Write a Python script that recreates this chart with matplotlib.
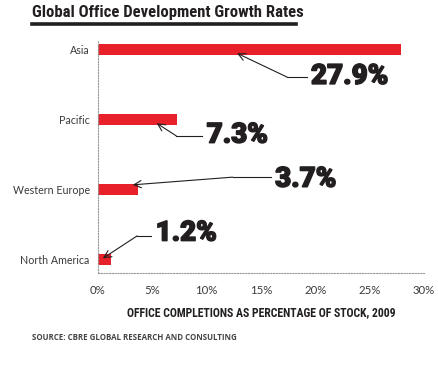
import matplotlib
matplotlib.use("Agg")
import matplotlib.pyplot as plt
import matplotlib.patheffects as pe

regions = ["North America", "Western Europe", "Pacific", "Asia"]
growth = [1.2, 3.7, 7.3, 27.9]
tick_values = [0, 5, 10, 15, 20, 25, 30]
tick_labels = ["0%", "5%", "10%", "15%", "20%", "25%", "30%"]

RED = "#e8202a"
INK = "#231f20"
NARROW = ["Liberation Sans Narrow", "Roboto Condensed", "Open Sans Condensed", "Lato", "DejaVu Sans"]

fig = plt.figure(figsize=(4.38, 3.67), dpi=100)
ax = fig.add_axes([98 / 438, (367 - 273) / 367, (424 - 98) / 438, (273 - 40) / 367])

y = list(range(len(regions)))
ax.barh(y, growth, height=0.16, color=RED, zorder=2)

ax.set_xlim(0, 30)
ax.set_ylim(-0.19, 3.14)
ax.set_yticks(y)
ax.set_yticklabels(regions, family=["Lato", "DejaVu Sans"], fontsize=7.7, color="#3a3a3a")
ax.set_xticks(tick_values)
ax.set_xticklabels(tick_labels, family=["Lato", "DejaVu Sans"], fontsize=8.2, color="#3a3a3a")
ax.tick_params(axis="y", length=0, pad=6)
ax.tick_params(axis="x", length=0, pad=9)

for side in ["top", "right"]:
    ax.spines[side].set_visible(False)
for side in ["left", "bottom"]:
    ax.spines[side].set_linestyle((0, (1, 1.5)))
    ax.spines[side].set_color("#999999")
    ax.spines[side].set_linewidth(0.8)

ax.set_xlabel("OFFICE COMPLETIONS AS PERCENTAGE OF STOCK, 2009",
              family=NARROW, fontsize=8.5, fontweight="bold", color=INK, labelpad=7)

# callouts: label text, text position, elbow, arrow tip (data units)
callouts = [
    ("27.9%", (19.6, 2.62), (17.4, 2.61), (12.8, 2.95)),
    ("7.3%", (10.0, 1.78), (7.2, 1.77), (5.4, 1.95)),
    ("3.7%", (16.3, 1.15), (12.4, 1.18), (3.2, 1.07)),
    ("1.2%", (5.3, 0.38), (3.6, 0.34), (0.45, 0.02)),
]
for label, txt, elbow, tip in callouts:
    ax.text(txt[0], txt[1], label, fontsize=20, fontweight="black",
            family=["Roboto", "DejaVu Sans"], color=INK, ha="left", va="center",
            path_effects=[pe.withStroke(linewidth=1.1, foreground=INK)])
    ax.plot([txt[0] - 0.4, elbow[0]], [elbow[1], elbow[1]], color=INK, lw=0.8, zorder=3)
    ax.annotate("", xy=tip, xytext=elbow,
                arrowprops=dict(arrowstyle="->", color=INK, lw=0.8,
                                shrinkA=0, shrinkB=0, mutation_scale=13))

# title with thick rule underneath
fig.text(32 / 438, 1 - 12 / 367, "Global Office Development Growth Rates",
         family=NARROW, fontsize=12, fontweight="bold", color=INK, ha="left", va="center")
fig.add_artist(plt.Line2D([32 / 438, 296 / 438], [1 - 24 / 367, 1 - 24 / 367],
                          color=INK, lw=2.6, transform=fig.transFigure))

fig.text(32 / 438, 1 - 338 / 367, "SOURCE: CBRE GLOBAL RESEARCH AND CONSULTING",
         family=["Open Sans", "DejaVu Sans"], fontsize=5.7, fontweight="bold",
         color="#444444", ha="left", va="center")

fig.savefig("out.png", dpi=100)
